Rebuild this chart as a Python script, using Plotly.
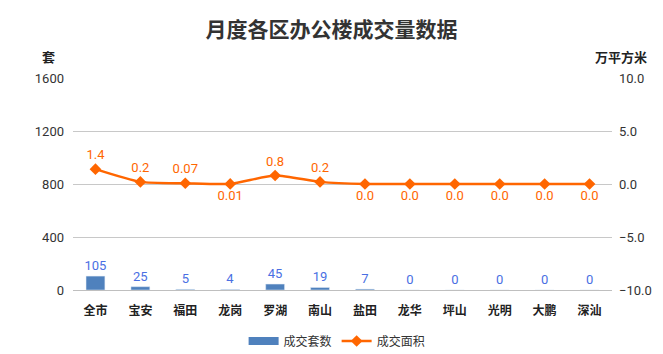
import plotly.graph_objects as go

categories = ["全市", "宝安", "福田", "龙岗", "罗湖", "南山", "盐田", "龙华", "坪山", "光明", "大鹏", "深汕"]
units = [105, 25, 5, 4, 45, 19, 7, 0, 0, 0, 0, 0]
area = [1.4, 0.2, 0.07, 0.01, 0.8, 0.2, 0.0, 0.0, 0.0, 0.0, 0.0, 0.0]
area_labels = ["1.4", "0.2", "0.07", "0.01", "0.8", "0.2", "0.0", "0.0", "0.0", "0.0", "0.0", "0.0"]
area_label_pos = ["top center", "top center", "top center", "bottom center", "top center", "top center",
                  "bottom center", "bottom center", "bottom center", "bottom center", "bottom center", "bottom center"]

font_family = "Noto Sans CJK SC, Microsoft YaHei, sans-serif"
num_family = "Liberation Sans Narrow, Roboto, sans-serif"

BAR_COLOR = "#4F81BD"
LINE_COLOR = "#FF6600"

W, H = 663, 354
ML, MR, MT, MB = 73, 51, 78, 64
plot_w = W - ML - MR
plot_h = H - MT - MB

def px_to_paper(px, py):
    return (px - ML) / plot_w, (H - MB - py) / plot_h

fig = go.Figure()
fig.add_trace(go.Bar(
    x=categories, y=units, name="成交套数",
    marker=dict(color=BAR_COLOR),
    width=0.42,
    text=[str(v) for v in units], textposition="outside", constraintext="none",
    textfont=dict(color="#4A6FE3", size=13, family=num_family),
    cliponaxis=False, showlegend=False,
))
# legend entry for bars drawn as a wide swatch
fig.add_trace(go.Scatter(
    x=[None], y=[None], name="成交套数", mode="lines",
    line=dict(color=BAR_COLOR, width=8), showlegend=True, hoverinfo="skip",
))
fig.add_trace(go.Scatter(
    x=categories, y=area, name="成交面积", yaxis="y2",
    mode="lines+markers+text",
    line=dict(color=LINE_COLOR, width=2.5, shape="spline", smoothing=0.6),
    marker=dict(symbol="diamond", size=9, color=LINE_COLOR),
    text=area_labels, textposition=area_label_pos,
    textfont=dict(color=LINE_COLOR, size=13, family=num_family),
    cliponaxis=False,
))

ax, ay = px_to_paper(48, 57)
bx, by = px_to_paper(621, 57)
lx, ly = px_to_paper(0, 341)

fig.update_layout(
    width=W, height=H,
    margin=dict(l=ML, r=MR, t=MT, b=MB, autoexpand=False),
    paper_bgcolor="white", plot_bgcolor="white",
    font=dict(family=font_family, size=12, color="#333333"),
    title=dict(text="<b>月度各区办公楼成交量数据</b>", x=0.5, xanchor="center", y=1 - 30 / H, yanchor="middle",
               font=dict(size=21, color="#333333", family=font_family)),
    showlegend=True,
    legend=dict(orientation="h", x=0.49, xanchor="center", y=ly, yanchor="middle",
                font=dict(size=12, color="#333333"), itemwidth=30, tracegroupgap=0),
    xaxis=dict(type="category", range=[-0.5, len(categories) - 0.5], showgrid=False,
               showline=True, linecolor="#BFBFBF",
               ticks="", ticklabelstandoff=10, tickfont=dict(size=12, color="#222222", weight="bold")),
    yaxis=dict(range=[0, 1600], dtick=400, showgrid=True, gridcolor="#C8C8C8", gridwidth=1,
               zeroline=False, ticks="", ticklabelstandoff=8,
               tickfont=dict(size=13, color="#333333", family=num_family)),
    yaxis2=dict(range=[-10, 10], dtick=5, tickformat=".1f", overlaying="y", side="right",
                showgrid=False, zeroline=False, ticks="", ticklabelstandoff=6,
                tickfont=dict(size=13, color="#333333", family=num_family)),
    annotations=[
        dict(text="<b>套</b>", x=ax, y=ay, xref="paper", yref="paper", showarrow=False,
             xanchor="center", yanchor="middle", font=dict(size=13, color="#222222")),
        dict(text="<b>万平方米</b>", x=bx, y=by, xref="paper", yref="paper", showarrow=False,
             xanchor="center", yanchor="middle", font=dict(size=13, color="#222222")),
    ],
)

fig.write_html("out.html")
